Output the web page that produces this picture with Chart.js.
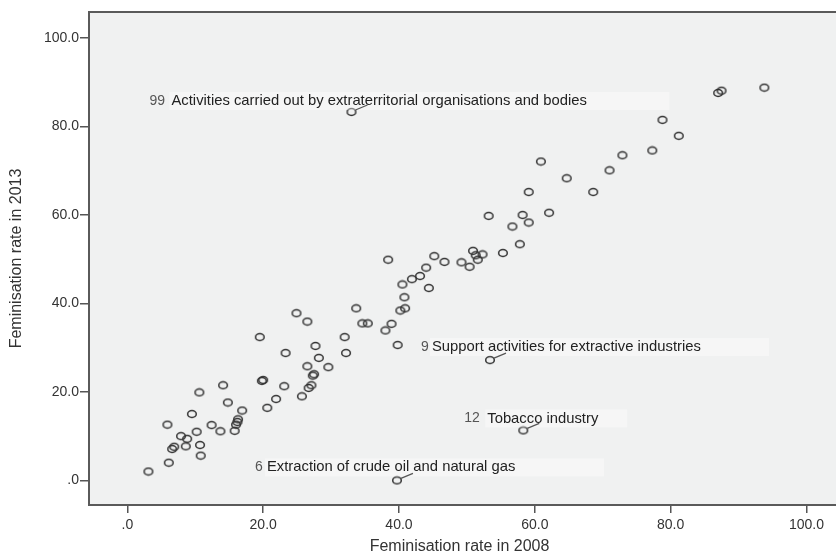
<!DOCTYPE html>
<html>
<head>
<meta charset="utf-8">
<script src="https://cdn.jsdelivr.net/npm/chart.js@4.4.0/dist/chart.umd.min.js"></script>
<style>
  html, body { margin: 0; padding: 0; background: #fff; overflow: hidden; }
  #wrap { width: 836px; height: 556px; }
</style>
</head>
<body>
<div id="wrap"><canvas id="chart"></canvas></div>
<script>
// feminisation rate per sector, 2008 vs 2013
const rate2008 = [
  3.1, 6.1, 5.9, 6.6, 6.9, 7.9, 8.6, 8.8, 9.5, 10.2, 10.7, 10.8, 10.6, 12.4, 13.7, 14.1,
  14.8, 15.8, 16.0, 16.2, 16.3, 16.9, 20.6, 21.9, 23.1, 19.8, 20.0, 25.7, 26.7, 27.1, 27.3, 27.5,
  19.5, 23.3, 24.9, 26.5, 27.7, 28.2, 26.5, 29.6, 32.0, 32.2, 33.7, 34.6, 35.4, 38.0, 38.9, 39.8,
  40.2, 40.9, 40.8, 38.4, 40.5, 41.9, 43.1, 44.0, 44.4, 45.2, 46.7, 49.2, 50.4, 50.9, 51.3, 51.6,
  52.3, 53.2, 55.3, 56.7, 57.8, 58.2, 59.1, 62.1, 60.9, 64.7, 68.6, 59.1, 71.0, 72.9, 77.3, 78.8,
  81.2, 87.0, 87.5, 93.8
];
const rate2013 = [
  2.0, 4.0, 12.6, 7.1, 7.6, 10.0, 7.7, 9.4, 15.0, 11.0, 8.0, 5.6, 19.9, 12.5, 11.1, 21.5,
  17.6, 11.2, 12.6, 13.2, 13.8, 15.8, 16.4, 18.4, 21.3, 22.5, 22.7, 19.0, 20.9, 21.5, 23.7, 24.0,
  32.4, 28.8, 37.8, 35.9, 30.4, 27.7, 25.8, 25.6, 32.4, 28.8, 38.9, 35.5, 35.5, 33.9, 35.4, 30.6,
  38.4, 38.9, 41.4, 49.9, 44.3, 45.5, 46.2, 48.1, 43.5, 50.7, 49.4, 49.3, 48.3, 51.9, 50.9, 49.9,
  51.1, 59.8, 51.4, 57.4, 53.4, 60.0, 58.3, 60.5, 72.1, 68.3, 65.2, 65.2, 70.1, 73.5, 74.6, 81.5,
  77.9, 87.6, 88.1, 88.8
];

// the labelled sectors
const sectorCodes = [99, 9, 12, 6];
const sectorNames = [
  "Activities carried out by extraterritorial organisations and bodies",
  "Support activities for extractive industries",
  "Tobacco industry",
  "Extraction of crude oil and natural gas"
];
const sector2008 = [33.0, 53.4, 58.3, 39.7];
const sector2013 = [83.3, 27.2, 11.3, 0.0];

const xTicks = [0, 20, 40, 60, 80, 100];
const yTicks = [0, 20, 40, 60, 80, 100];

const FONT = "'Liberation Sans', Arial, Helvetica, sans-serif";
const FRAME = "#5a5a5a";
const fmt = v => (v === 0 ? ".0" : v.toFixed(1));

// where each label sits, in pixels from its point
const labelPlace = [
  { numDx: -202, textDx: -180, dy: -11, boxEnd: 318 },
  { numDx: -69,  textDx: -58,  dy: -13, boxEnd: 279 },
  { numDx: -59,  textDx: -36,  dy: -12, boxEnd: 104 },
  { numDx: -142, textDx: -130, dy: -13, boxEnd: 207 }
];

// open ring, a little wider than tall like the original
function ring() {
  const c = document.createElement("canvas");
  c.width = 12;
  c.height = 10;
  const g = c.getContext("2d");
  g.strokeStyle = "#333";
  g.lineWidth = 1.5;
  g.beginPath();
  g.ellipse(6, 5, 4.3, 3.4, 0, 0, Math.PI * 2);
  g.stroke();
  return c;
}

const points = rate2008
  .map((x, i) => ({ x, y: rate2013[i] }))
  .concat(sector2008.map((x, i) => ({ x, y: sector2013[i] })));

// grey plot panel running off the right edge, with the top rule
const plotFrame = {
  id: "plotFrame",
  beforeDraw(chart) {
    const { ctx, chartArea: a } = chart;
    ctx.save();
    ctx.fillStyle = "#f0f1f1";
    ctx.fillRect(a.left, a.top, chart.width - a.left, a.bottom - a.top);
    ctx.restore();
  },
  afterDraw(chart) {
    const { ctx, chartArea: a } = chart;
    ctx.save();
    ctx.strokeStyle = FRAME;
    ctx.lineWidth = 2;
    ctx.beginPath();
    ctx.moveTo(a.left - 1, a.top);
    ctx.lineTo(chart.width, a.top);
    ctx.moveTo(a.right - 1, a.bottom);
    ctx.lineTo(chart.width, a.bottom);
    ctx.stroke();
    ctx.restore();
  }
};

const sectorLabels = {
  id: "sectorLabels",
  afterDatasetsDraw(chart) {
    const { ctx, scales } = chart;
    ctx.save();
    sectorCodes.forEach((code, i) => {
      const px = scales.x.getPixelForValue(sector2008[i]);
      const py = scales.y.getPixelForValue(sector2013[i]);
      const p = labelPlace[i];

      ctx.fillStyle = "rgba(255,255,255,0.4)";
      ctx.fillRect(px + p.textDx - 2, py + p.dy - 9, p.boxEnd - p.textDx + 2, 18);

      ctx.textBaseline = "middle";
      ctx.textAlign = "left";
      ctx.fillStyle = "#555";
      ctx.font = "14px " + FONT;
      ctx.fillText(String(code), px + p.numDx, py + p.dy);
      ctx.fillStyle = "#222";
      ctx.font = "14.8px " + FONT;
      ctx.fillText(sectorNames[i], px + p.textDx, py + p.dy);

      ctx.strokeStyle = "#555";
      ctx.lineWidth = 1.2;
      ctx.beginPath();
      ctx.moveTo(px + 4, py - 2);
      ctx.lineTo(px + 16, py - 7);
      ctx.stroke();
    });
    ctx.restore();
  }
};

new Chart(document.getElementById("chart"), {
  type: "scatter",
  data: {
    datasets: [
      {
        data: points,
        pointStyle: ring(),
        pointRadius: 5,
        pointHoverRadius: 5
      }
    ]
  },
  options: {
    responsive: true,
    maintainAspectRatio: false,
    animation: false,
    layout: { padding: { top: 12, right: 0, bottom: 0, left: 0 } },
    plugins: {
      legend: { display: false },
      tooltip: { enabled: false }
    },
    scales: {
      x: {
        type: "linear",
        min: -5.65,
        max: 103.47,
        afterBuildTicks: s => { s.ticks = xTicks.map(v => ({ value: v })); },
        afterFit: s => {
          s.height = 51;
          s.paddingLeft = 0;
          s.paddingRight = 0;
        },
        ticks: {
          callback: v => fmt(v),
          color: "#333",
          font: { family: FONT, size: 14 },
          padding: 4,
          maxRotation: 0,
          autoSkip: false
        },
        grid: { drawOnChartArea: false, drawTicks: true, tickLength: 8, color: "#555", lineWidth: 1.5 },
        border: { display: true, color: FRAME, width: 2 },
        title: {
          display: true,
          text: "Feminisation rate in 2008",
          color: "#333",
          font: { family: FONT, size: 16 },
          padding: { top: 2, bottom: 0 }
        }
      },
      y: {
        type: "linear",
        min: -5.56,
        max: 105.9,
        afterBuildTicks: s => { s.ticks = yTicks.map(v => ({ value: v })); },
        afterFit: s => {
          s.width = 89;
          s.paddingTop = 0;
          s.paddingBottom = 0;
        },
        ticks: {
          callback: v => fmt(v),
          color: "#333",
          font: { family: FONT, size: 14 },
          padding: 1,
          autoSkip: false
        },
        grid: { drawOnChartArea: false, drawTicks: true, tickLength: 9, color: "#555", lineWidth: 1.5 },
        border: { display: true, color: FRAME, width: 2 },
        title: {
          display: true,
          text: "Feminisation rate in 2013",
          color: "#333",
          font: { family: FONT, size: 16 },
          padding: { top: 7, bottom: 2 }
        }
      }
    }
  },
  plugins: [plotFrame, sectorLabels]
});
</script>
</body>
</html>
